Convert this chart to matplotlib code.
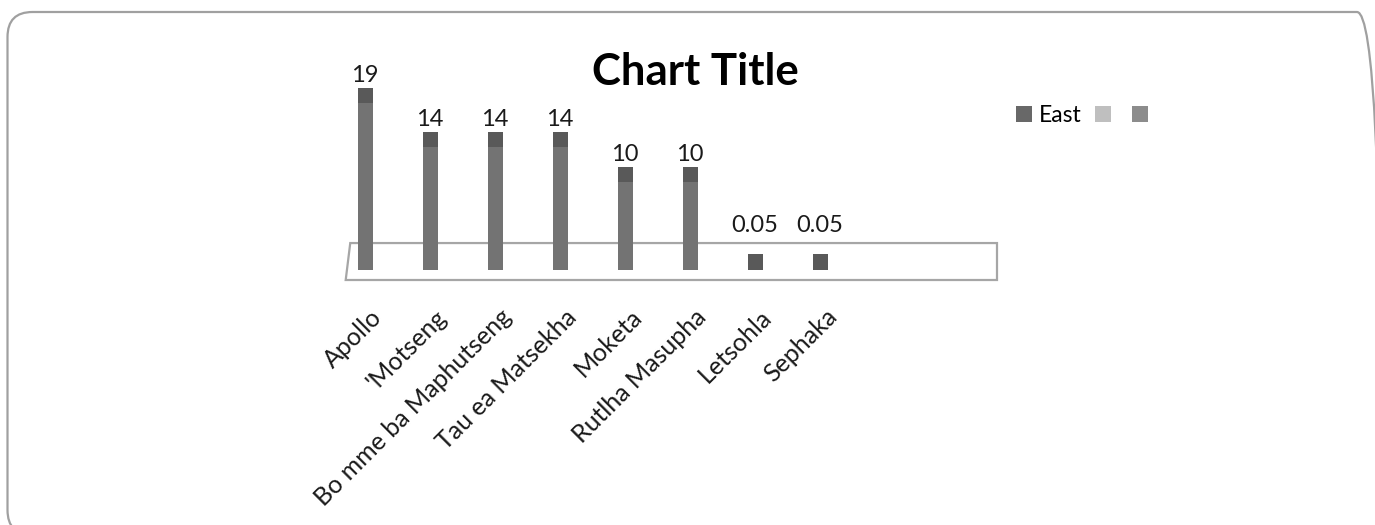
import matplotlib
matplotlib.use("Agg")
import matplotlib.pyplot as plt
from matplotlib.patches import Polygon, FancyBboxPatch, Patch
from matplotlib.transforms import blended_transform_factory, IdentityTransform

categories = ["Apollo", "'Motseng", "Bo mme ba Maphutseng", "Tau ea Matsekha",
              "Moketa", "Rutlha Masupha", "Letsohla", "Sephaka"]
east = [19, 14, 14, 14, 10, 10, 0.05, 0.05]
legend_labels = ["East", "", ""]

FONT = ["Lato", "DejaVu Sans"]
plt.rcParams["font.family"] = FONT

W, H = 1375, 525
fig = plt.figure(figsize=(W / 100, H / 100), dpi=100)
fig.patch.set_facecolor("white")

# axes placed in pixel terms
left_px, right_px = 347, 997
bottom_px, top_px = 280, 40   # from top of image
ax = fig.add_axes([left_px / W, (H - bottom_px) / H,
                   (right_px - left_px) / W, (bottom_px - top_px) / H])
ax.set_facecolor("none")

k = 8.78                      # px per unit
ax.set_ylim(-(bottom_px - 270) / k, (270 - top_px) / k)
ax.set_xlim(-18 / 65, (right_px - 365) / 65)

x = list(range(len(categories)))
cap_depth = 1.73
floor_depth = 3.07

# floor (3-D base)
tr = blended_transform_factory(ax.transAxes, ax.transData)
y0 = ax.get_ylim()[0]
floor = Polygon([(-0.002, y0), (0.005, floor_depth), (1.0, floor_depth), (1.0, y0)],
                closed=True, facecolor="white", edgecolor="#a6a6a6", lw=1.6,
                transform=tr, clip_on=False, zorder=1)
ax.add_patch(floor)

bw = 15 / 65
ax.bar(x, east, width=bw, color="#737373", zorder=3, linewidth=0)
ax.bar(x, [cap_depth] * len(east), bottom=east, width=bw, color="#595959",
       zorder=4, linewidth=0)

for xi, v in zip(x, east):
    off = 2 if v >= 1 else 18
    ax.annotate(f"{v:g}", (xi, v + cap_depth), xytext=(0, off),
                textcoords="offset pixels", ha="center", va="bottom",
                fontsize=17, color="#1a1a1a", zorder=5)

ax.set_xticks([])
ax.set_yticks([])
for s in ax.spines.values():
    s.set_visible(False)

# category labels (shifted right as in the 3-D projection)
shift = 21 / 65
sec = ax.secondary_xaxis("bottom", functions=(lambda v: v - shift, lambda s: s + shift))
sec.set_xticks(x)
sec.set_xticklabels(categories, rotation=45, ha="right", fontsize=18,
                    color="#1a1a1a")
sec.tick_params(length=0, pad=18)
sec.spines["bottom"].set_visible(False)

# title
fig.text(695 / W, (H - 85) / H, "Chart Title", ha="center", va="baseline",
         fontsize=31.5, fontweight="bold", color="black")

# legend
handles = [Patch(facecolor=c, edgecolor="none") for c in ["#686868", "#bfbfbf", "#8c8c8c"]]
fig.legend(handles, legend_labels, loc="upper left",
           bbox_to_anchor=(1016 / W, (H - 105) / H), ncol=3, frameon=False,
           fontsize=16.5, handlelength=0.7, handleheight=0.7,
           handletextpad=0.3, columnspacing=0.6, borderpad=0, borderaxespad=0)

# rounded outer border
border = FancyBboxPatch((7.5, -10), 1374.5, 523,
                        boxstyle="round,pad=0,rounding_size=25",
                        transform=IdentityTransform(), facecolor="none",
                        edgecolor="#a0a0a0", lw=1.6, zorder=0)
fig.add_artist(border)

fig.savefig("out.png", dpi=100)
